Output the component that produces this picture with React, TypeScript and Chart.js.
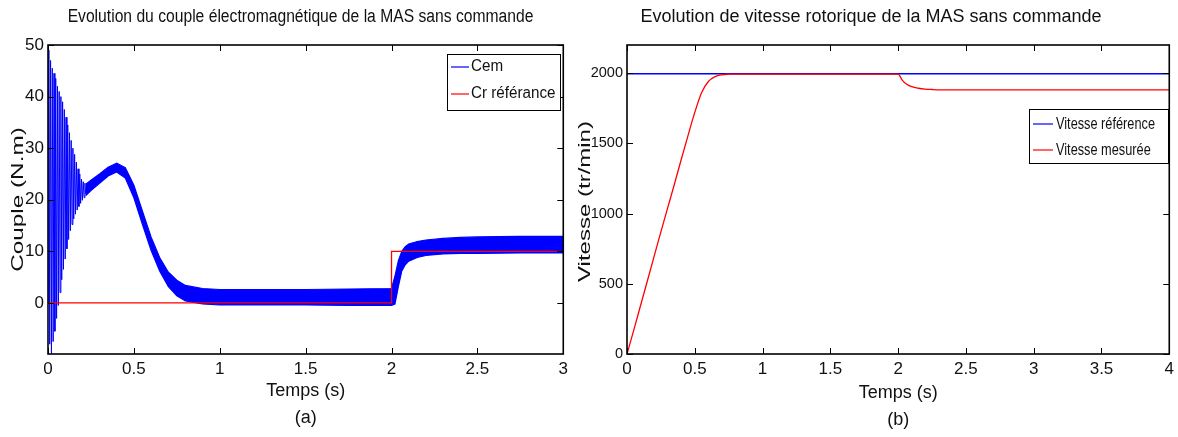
import React, { useEffect, useRef } from 'react';
import { Chart, registerables } from 'chart.js';

Chart.register(...registerables);

const SANS = '"Liberation Sans", Arial, Helvetica, sans-serif';
const BLUE = '#0000ff';
const RED = '#ff0000';
const INK = '#111111';

// ---------- (a) Couple électromagnétique ----------
// start-up oscillation (alternating troughs / crests)
const cemOscT = [0, 0.005, 0.01, 0.015, 0.02, 0.025, 0.03, 0.035, 0.04, 0.045, 0.05, 0.055, 0.06, 0.065, 0.07, 0.075, 0.08, 0.085, 0.09, 0.095, 0.1, 0.105, 0.11, 0.115, 0.12, 0.125, 0.13, 0.135, 0.14, 0.145, 0.15, 0.155, 0.16, 0.165, 0.17, 0.175, 0.18, 0.185, 0.19, 0.195, 0.2, 0.205, 0.21, 0.215, 0.22];
const cemOscV = [0, 49, -8, 47, -9.8, 45.5, -7.5, 44.5, -5.5, 43.5, -3, 42, -0.5, 41, 2, 40, 4.5, 39, 6.5, 37.5, 8.5, 36, 10.5, 34.5, 12.3, 33, 14, 31.5, 15.2, 30, 16.3, 28.8, 17.2, 27.3, 18, 26, 18.7, 25, 19.3, 24, 19.9, 23.5, 20.4, 23.2, 21];
// ripple band of Cem afterwards (upper / lower envelope)
const cemBandT = [0.22, 0.25, 0.3, 0.35, 0.4, 0.45, 0.5, 0.55, 0.6, 0.65, 0.7, 0.75, 0.8, 0.9, 1.0, 1.25, 1.5, 1.75, 2.0, 2.02, 2.04, 2.06, 2.08, 2.1, 2.15, 2.2, 2.3, 2.4, 2.5, 2.75, 3.0];
const cemBandHigh = [23.0, 23.8, 25.0, 26.3, 27.1, 26.2, 22.8, 17.8, 12.8, 8.8, 6.0, 4.4, 3.4, 2.8, 2.6, 2.6, 2.6, 2.7, 2.8, 5.2, 8.2, 10.0, 10.9, 11.4, 11.9, 12.2, 12.5, 12.7, 12.8, 12.9, 12.9];
const cemBandLow = [20.8, 21.8, 23.2, 24.6, 25.4, 24.2, 20.4, 15.2, 10.2, 6.2, 3.2, 1.4, 0.4, -0.2, -0.4, -0.4, -0.4, -0.5, -0.5, -0.2, 3.2, 6.2, 7.4, 8.1, 8.8, 9.2, 9.5, 9.6, 9.6, 9.7, 9.7];
// load torque reference
const crT = [0, 2, 2, 3];
const crV = [0, 0, 10, 10];
const torqueXTicks = [0, 0.5, 1, 1.5, 2, 2.5, 3];
const torqueYTicks = [0, 10, 20, 30, 40, 50];

// ---------- (b) Vitesse rotorique ----------
const refT = [0, 4];
const refV = [1995, 1995];
const speedT = [0, 0.05, 0.1, 0.15, 0.2, 0.25, 0.3, 0.35, 0.4, 0.45, 0.5, 0.55, 0.6, 0.65, 0.7, 0.75, 0.8, 1.0, 1.5, 2.0, 2.03, 2.06, 2.1, 2.15, 2.2, 2.25, 2.3, 3.0, 4.0];
const speedV = [0, 170, 345, 520, 695, 870, 1040, 1210, 1385, 1555, 1720, 1860, 1940, 1975, 1988, 1992, 1993, 1993, 1993, 1993, 1950, 1922, 1903, 1892, 1886, 1883, 1881, 1880, 1880];
const speedXTicks = [0, 0.5, 1, 1.5, 2, 2.5, 3, 3.5, 4];
const speedYTicks = [0, 500, 1000, 1500, 2000];

const pts = (xs: number[], ys: number[]) => xs.map((x, i) => ({ x, y: ys[i] }));

function drawText(ctx: any, text: string, x: number, y: number, font: string, sx: number, align: string, rot: number) {
  ctx.save();
  ctx.translate(x, y);
  if (rot) ctx.rotate(rot);
  ctx.scale(sx, 1);
  ctx.font = font;
  ctx.fillStyle = INK;
  ctx.textAlign = align;
  ctx.textBaseline = 'middle';
  ctx.fillText(text, 0, 0);
  ctx.restore();
}

// MATLAB-like box, inward ticks, title, y-label and boxed legend
const matlabAxes = {
  id: 'matlabAxes',
  afterDatasetsDraw(chart: any, _args: any, opts: any) {
    const { ctx, chartArea: a, scales } = chart;
    const xs = scales.x;
    const ys = scales.y;
    const L = opts.tickLen;
    ctx.save();
    ctx.strokeStyle = '#000';
    ctx.lineWidth = 1;
    ctx.beginPath();
    for (const t of xs.ticks) {
      const p = Math.round(xs.getPixelForValue(t.value)) + 0.5;
      ctx.moveTo(p, a.bottom);
      ctx.lineTo(p, a.bottom - L);
      ctx.moveTo(p, a.top);
      ctx.lineTo(p, a.top + L);
    }
    for (const t of ys.ticks) {
      const p = Math.round(ys.getPixelForValue(t.value)) + 0.5;
      ctx.moveTo(a.left, p);
      ctx.lineTo(a.left + L, p);
      ctx.moveTo(a.right, p);
      ctx.lineTo(a.right - L, p);
    }
    ctx.stroke();
    ctx.lineWidth = 1.6;
    ctx.strokeRect(a.left, a.top, a.right - a.left, a.bottom - a.top);

    const tt = opts.title;
    if (tt) drawText(ctx, tt.text, tt.x, tt.y, tt.font, tt.sx, 'center', 0);

    const yl = opts.yLabel;
    if (yl) {
      ctx.save();
      ctx.translate(yl.x, (a.top + a.bottom) / 2 + yl.dy);
      ctx.rotate(-Math.PI / 2);
      ctx.scale(yl.stretch, 1);
      ctx.font = yl.font;
      ctx.fillStyle = INK;
      ctx.textAlign = 'center';
      ctx.textBaseline = 'middle';
      ctx.fillText(yl.text, 0, 0);
      ctx.restore();
    }

    const lg = opts.legend;
    if (lg) {
      ctx.fillStyle = '#fff';
      ctx.fillRect(lg.x, lg.y, lg.w, lg.h);
      ctx.lineWidth = 1;
      ctx.strokeStyle = '#000';
      ctx.strokeRect(lg.x + 0.5, lg.y + 0.5, lg.w, lg.h);
      lg.items.forEach((it: any, i: number) => {
        const cy = lg.y + lg.firstRow + i * lg.rowH;
        ctx.strokeStyle = it.color;
        ctx.lineWidth = 1.2;
        ctx.beginPath();
        ctx.moveTo(lg.x + lg.lineX, cy);
        ctx.lineTo(lg.x + lg.lineX + lg.lineLen, cy);
        ctx.stroke();
        drawText(ctx, it.label, lg.x + lg.textX, cy, lg.font, lg.sx, 'left', 0);
      });
    }
    ctx.restore();
  },
};

const fmt = (v: any) => String(v);

function makeScales(o: any) {
  return {
    x: {
      type: 'linear',
      min: o.xMin,
      max: o.xMax,
      grid: { display: false, drawTicks: false },
      border: { display: false },
      afterBuildTicks: (s: any) => {
        s.ticks = o.xTicks.map((v: number) => ({ value: v }));
      },
      afterFit: (s: any) => {
        s.height = o.xAxisH;
      },
      ticks: {
        color: INK,
        padding: o.xTickPad,
        maxRotation: 0,
        callback: fmt,
        font: { family: SANS, size: 17, lineHeight: 1.2 },
      },
      title: {
        display: true,
        text: o.xTitle,
        color: INK,
        font: { family: SANS, size: 18, lineHeight: 1.5 },
        padding: { top: 0, bottom: o.xTitlePadBottom },
      },
    },
    y: {
      type: 'linear',
      min: o.yMin,
      max: o.yMax,
      grid: { display: false, drawTicks: false },
      border: { display: false },
      afterBuildTicks: (s: any) => {
        s.ticks = o.yTicks.map((v: number) => ({ value: v }));
      },
      afterFit: (s: any) => {
        s.width = o.yAxisW;
      },
      ticks: {
        color: INK,
        padding: 4,
        callback: fmt,
        font: { family: SANS, size: o.yTickSize, lineHeight: 1.2 },
      },
      title: { display: false },
    },
  };
}

function TorqueChart() {
  const ref = useRef<HTMLCanvasElement>(null);
  useEffect(() => {
    const datasets: any[] = [
      { label: 'Cem', data: pts(cemOscT, cemOscV), borderColor: BLUE, borderWidth: 1, pointRadius: 0, fill: false, order: 1 },
      { label: 'Cem (enveloppe haute)', data: pts(cemBandT, cemBandHigh), borderColor: BLUE, borderWidth: 1.2, pointRadius: 0, fill: false, order: 1 },
      { label: 'Cem (enveloppe basse)', data: pts(cemBandT, cemBandLow), borderColor: BLUE, backgroundColor: BLUE, borderWidth: 1.2, pointRadius: 0, fill: '-1', order: 1 },
      { label: 'Cr référance', data: pts(crT, crV), borderColor: RED, borderWidth: 1.3, pointRadius: 0, fill: false, order: 0 },
    ];
    const chart = new Chart(ref.current as HTMLCanvasElement, {
      type: 'line',
      data: { datasets },
      plugins: [matlabAxes],
      options: {
        animation: false,
        responsive: false,
        devicePixelRatio: 1,
        events: [],
        layout: { padding: { left: 0, right: 4, top: 45, bottom: 0 } },
        scales: makeScales({
          xMin: 0, xMax: 3, yMin: -9.9, yMax: 50,
          xTicks: torqueXTicks, yTicks: torqueYTicks,
          xAxisH: 83, yAxisW: 48, xTickPad: 5, yTickSize: 17,
          xTitle: ['Temps (s)', '(a)'], xTitlePadBottom: 5.5,
        }) as any,
        plugins: {
          legend: { display: false },
          tooltip: { enabled: false },
          title: { display: false },
          matlabAxes: {
            tickLen: 6,
            title: { text: 'Evolution du couple électromagnétique de la MAS sans commande', x: 300.5, y: 17, font: `18px ${SANS}`, sx: 0.87 },
            yLabel: { text: 'Couple (N.m)', x: 18.5, dy: 0, font: `16px ${SANS}`, stretch: 1.52 },
            legend: {
              x: 447, y: 54, w: 113, h: 56,
              lineX: 4, lineLen: 18, textX: 24, firstRow: 13, rowH: 27,
              font: `16px ${SANS}`, sx: 0.95,
              items: [
                { label: datasets[0].label, color: BLUE },
                { label: datasets[3].label, color: RED },
              ],
            },
          },
        } as any,
      },
    });
    return () => chart.destroy();
  }, []);
  return <canvas ref={ref} width={573} height={437} style={{ position: 'absolute', left: 0, top: 0 }} />;
}

function SpeedChart() {
  const ref = useRef<HTMLCanvasElement>(null);
  useEffect(() => {
    const datasets: any[] = [
      { label: 'Vitesse référence', data: pts(refT, refV), borderColor: BLUE, borderWidth: 1.6, pointRadius: 0, fill: false, order: 1 },
      { label: 'Vitesse mesurée', data: pts(speedT, speedV), borderColor: RED, borderWidth: 1.3, pointRadius: 0, fill: false, cubicInterpolationMode: 'monotone', order: 0 },
    ];
    const chart = new Chart(ref.current as HTMLCanvasElement, {
      type: 'line',
      data: { datasets },
      plugins: [matlabAxes],
      options: {
        animation: false,
        responsive: false,
        devicePixelRatio: 1,
        events: [],
        layout: { padding: { left: 0, right: 4, top: 45, bottom: 0 } },
        scales: makeScales({
          xMin: 0, xMax: 4, yMin: 0, yMax: 2200,
          xTicks: speedXTicks, yTicks: speedYTicks,
          xAxisH: 83, yAxisW: 54, xTickPad: 5, yTickSize: 14.5,
          xTitle: ['Temps (s)', '(b)'], xTitlePadBottom: 3.5,
        }) as any,
        plugins: {
          legend: { display: false },
          tooltip: { enabled: false },
          title: { display: false },
          matlabAxes: {
            tickLen: 6,
            title: { text: 'Evolution de vitesse rotorique de la MAS sans commande', x: 298, y: 17, font: `18px ${SANS}`, sx: 1 },
            yLabel: { text: 'Vitesse (tr/min)', x: 12.5, dy: 2, font: `16px ${SANS}`, stretch: 1.5 },
            legend: {
              x: 456, y: 109, w: 139, h: 54,
              lineX: 4, lineLen: 20, textX: 27, firstRow: 15, rowH: 26,
              font: `17px ${SANS}`, sx: 0.75,
              items: [
                { label: datasets[0].label, color: BLUE },
                { label: datasets[1].label, color: RED },
              ],
            },
          },
        } as any,
      },
    });
    return () => chart.destroy();
  }, []);
  return <canvas ref={ref} width={606} height={437} style={{ position: 'absolute', left: 573, top: 0 }} />;
}

export default function App() {
  return (
    <div style={{ position: 'absolute', left: 0, top: 0, width: 1178, height: 437, background: '#fff', overflow: 'hidden' }}>
      <TorqueChart />
      <SpeedChart />
    </div>
  );
}
